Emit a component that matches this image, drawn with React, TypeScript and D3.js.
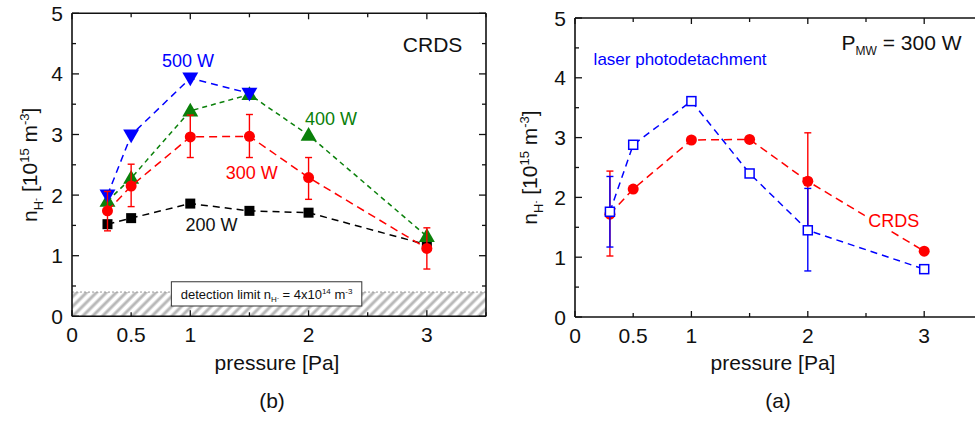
import React from 'react';
import * as d3 from 'd3';

// pressure [Pa]
const pressure = [0.3, 0.5, 1, 1.5, 2, 3];
const pressure500 = [0.3, 0.5, 1, 1.5];

// panel (b): CRDS at several MW powers, n_H- [1e15 m^-3]
const crds200 = [1.52, 1.62, 1.86, 1.74, 1.71, 1.18];
const crds300 = [1.74, 2.15, 2.96, 2.97, 2.29, 1.12];
const crds300Low = [1.41, 1.81, 2.62, 2.62, 1.93, 0.78];
const crds300High = [2.06, 2.51, 3.32, 3.33, 2.62, 1.46];
const crds400 = [1.9, 2.28, 3.39, 3.66, 2.99, 1.32];
const crds500 = [2.0, 2.99, 3.93, 3.68];
const detectionLimit = 0.4;

// panel (a): 300 W, laser photodetachment vs CRDS
const lpd = [1.76, 2.88, 3.61, 2.4, 1.45, 0.8];
const lpdErrP = [0.3, 2];
const lpdErrLow = [1.17, 0.77];
const lpdErrHigh = [2.35, 2.15];
const crdsA = [1.72, 2.14, 2.96, 2.97, 2.27, 1.1];
const crdsAErrP = [0.3, 2];
const crdsAErrLow = [1.02, 1.46];
const crdsAErrHigh = [2.44, 3.08];

const xTickLabels = [0, 0.5, 1, 2, 3];
const yTickLabels = [0, 1, 2, 3, 4, 5];

const FONT = '"Liberation Sans", Arial, Helvetica, sans-serif';
const BLUE = '#0000ff';
const RED = '#ff0000';
const GREEN = '#0a800a';

type Box = { left: number; right: number; top: number; bottom: number; rightAxis: boolean; titleOff: number };

function Frame({ x, y, box, children }: { x: any; y: any; box: Box; children?: any }) {
  const halfSteps = d3.range(0, 7.01, 1).map((d) => d / 2);
  const yHalf = d3.range(0, 10.01, 1).map((d) => d / 2);
  return (
    <g>
      {children}
      {/* frame */}
      <line x1={box.left} x2={box.left} y1={box.top} y2={box.bottom} stroke="#111" strokeWidth={1.6} />
      <line x1={box.left} x2={box.right} y1={box.bottom} y2={box.bottom} stroke="#111" strokeWidth={1.6} />
      <line x1={box.left} x2={box.right} y1={box.top} y2={box.top} stroke="#111" strokeWidth={1.6} />
      {box.rightAxis && (
        <line x1={box.right} x2={box.right} y1={box.top} y2={box.bottom} stroke="#111" strokeWidth={1.6} />
      )}
      {halfSteps.map((t) => {
        const len = Number.isInteger(t) ? 6 : 4;
        const px = x(t);
        if (px > box.right + 1) return null;
        return (
          <g key={'xt' + t}>
            <line x1={px} x2={px} y1={box.bottom} y2={box.bottom - len} stroke="#111" strokeWidth={1.3} />
            <line x1={px} x2={px} y1={box.top} y2={box.top + len} stroke="#111" strokeWidth={1.3} />
          </g>
        );
      })}
      {yHalf.map((t) => {
        const len = Number.isInteger(t) ? 7 : 4;
        const py = y(t);
        return (
          <g key={'yt' + t}>
            <line x1={box.left} x2={box.left + len} y1={py} y2={py} stroke="#111" strokeWidth={1.3} />
            {box.rightAxis && (
              <line x1={box.right} x2={box.right - len} y1={py} y2={py} stroke="#111" strokeWidth={1.3} />
            )}
          </g>
        );
      })}
      {xTickLabels.map((t) => (
        <text key={'xl' + t} x={x(t)} y={box.bottom + 26} textAnchor="middle" fontSize={21} fill="#111">
          {t}
        </text>
      ))}
      {yTickLabels.map((t) => (
        <text key={'yl' + t} x={box.left - 9} y={y(t) + 7.5} textAnchor="end" fontSize={21} fill="#111">
          {t}
        </text>
      ))}
      <text x={(box.left + Math.min(box.right, 975)) / 2 - 2} y={370} textAnchor="middle" fontSize={21} fill="#111">
        pressure [Pa]
      </text>
      <text
        transform={`translate(${box.left - box.titleOff},${(box.top + box.bottom) / 2}) rotate(-90)`}
        textAnchor="middle"
        fontSize={21}
        fill="#111"
      >
        n
        <tspan fontSize={13} dy={6}>H</tspan>
        <tspan fontSize={9} dy={-4}>-</tspan>
        <tspan fontSize={21} dy={-2}> [10</tspan>
        <tspan fontSize={13} dy={-8}>15</tspan>
        <tspan fontSize={21} dy={8}> m</tspan>
        <tspan fontSize={13} dy={-8}>-3</tspan>
        <tspan fontSize={21} dy={8}>]</tspan>
      </text>
    </g>
  );
}

function Series({ xs, ys, x, y, color, dash, marker }: any) {
  const line = d3
    .line<number>()
    .x((_, i) => x(xs[i]))
    .y((d) => y(d));
  return (
    <g>
      <path d={line(ys) || ''} fill="none" stroke={color} strokeWidth={1.5} strokeDasharray={dash} />
      {ys.map((v: number, i: number) => {
        const cx = x(xs[i]);
        const cy = y(v);
        if (marker === 'circle') return <circle key={i} cx={cx} cy={cy} r={5.5} fill={color} />;
        if (marker === 'square') return <rect key={i} x={cx - 5} y={cy - 5} width={10} height={10} fill={color} />;
        if (marker === 'open') return <rect key={i} x={cx - 4.5} y={cy - 4.5} width={9} height={9} fill="#fff" stroke={color} strokeWidth={1.5} />;
        if (marker === 'up') {
          const s = d3.symbol(d3.symbolTriangle, 110)() || '';
          return <path key={i} d={s} transform={`translate(${cx},${cy + 1})`} fill={color} />;
        }
        const s = d3.symbol(d3.symbolTriangle, 110)() || '';
        return <path key={i} d={s} transform={`translate(${cx},${cy - 1}) rotate(180)`} fill={color} />;
      })}
    </g>
  );
}

function ErrorBars({ xs, lo, hi, x, y, color }: any) {
  return (
    <g>
      {xs.map((p: number, i: number) => (
        <g key={i} stroke={color} strokeWidth={1.4}>
          <line x1={x(p)} x2={x(p)} y1={y(lo[i])} y2={y(hi[i])} />
          <line x1={x(p) - 3.5} x2={x(p) + 3.5} y1={y(lo[i])} y2={y(lo[i])} />
          <line x1={x(p) - 3.5} x2={x(p) + 3.5} y1={y(hi[i])} y2={y(hi[i])} />
        </g>
      ))}
    </g>
  );
}

export default function App() {
  const boxB: Box = { left: 72, right: 486, top: 13.3, bottom: 316.3, rightAxis: true, titleOff: 35 };
  const xB = d3.scaleLinear().domain([0, 3.5]).range([boxB.left, boxB.right]);
  const yB = d3.scaleLinear().domain([0, 5]).range([boxB.bottom, boxB.top]);

  const boxA: Box = { left: 575, right: 982.4, top: 18, bottom: 317, rightAxis: false, titleOff: 38 };
  const xA = d3.scaleLinear().domain([0, 3.5]).range([boxA.left, boxA.right]);
  const yA = d3.scaleLinear().domain([0, 5]).range([boxA.bottom, boxA.top]);

  return (
    <svg width={975} height={421} style={{ position: 'absolute', left: 0, top: 0 }} fontFamily={FONT}>
      <defs>
        <pattern id="hatch" patternUnits="userSpaceOnUse" width={7} height={7} patternTransform="rotate(45)">
          <rect width={7} height={7} fill="#fff" />
          <line x1={2} x2={2} y1={0} y2={7} stroke="#b8b8b8" strokeWidth={3} />
        </pattern>
      </defs>
      <rect width={975} height={421} fill="#fff" />

      {/* panel (b) */}
      <Frame x={xB} y={yB} box={boxB}>
        <rect
          x={boxB.left}
          y={yB(detectionLimit)}
          width={boxB.right - boxB.left}
          height={yB(0) - yB(detectionLimit)}
          fill="url(#hatch)"
        />
        <line
          x1={boxB.left}
          x2={boxB.right}
          y1={yB(detectionLimit)}
          y2={yB(detectionLimit)}
          stroke="#999"
          strokeWidth={1}
          strokeDasharray="2,2"
        />
        <rect x={xB(0.84)} y={yB(0.57)} width={xB(2.45) - xB(0.84)} height={yB(0.17) - yB(0.57)} fill="#fff" stroke="#333" strokeWidth={1} />
        <text x={xB(1.645)} y={yB(0.29)} textAnchor="middle" fontSize={13} fill="#111">
          detection limit n
          <tspan fontSize={8} dy={3}>H</tspan>
          <tspan fontSize={6} dy={-2}>-</tspan>
          <tspan fontSize={13} dy={-1}> = 4x10</tspan>
          <tspan fontSize={8} dy={-5}>14</tspan>
          <tspan fontSize={13} dy={5}> m</tspan>
          <tspan fontSize={8} dy={-5}>-3</tspan>
        </text>

        <Series xs={pressure} ys={crds200} x={xB} y={yB} color="#000" dash="7,5" marker="square" />
        <Series xs={pressure} ys={crds400} x={xB} y={yB} color={GREEN} dash="5,4" marker="up" />
        <Series xs={pressure500} ys={crds500} x={xB} y={yB} color={BLUE} dash="7,5" marker="down" />
        <ErrorBars xs={pressure} lo={crds300Low} hi={crds300High} x={xB} y={yB} color={RED} />
        <Series xs={pressure} ys={crds300} x={xB} y={yB} color={RED} dash="8,5" marker="circle" />

        <text x={xB(0.98)} y={yB(4.11)} textAnchor="middle" fontSize={18} fill={BLUE}>500 W</text>
        <text x={xB(2.19)} y={yB(3.16)} textAnchor="middle" fontSize={18} fill={GREEN}>400 W</text>
        <text x={xB(1.52)} y={yB(2.27)} textAnchor="middle" fontSize={18} fill={RED}>300 W</text>
        <text x={xB(1.18)} y={yB(1.41)} textAnchor="middle" fontSize={18} fill="#111">200 W</text>
        <text x={xB(3.3)} y={yB(4.36)} textAnchor="end" fontSize={21} fill="#111">CRDS</text>
      </Frame>
      <text x={272} y={408} textAnchor="middle" fontSize={21} fill="#111">(b)</text>

      {/* panel (a) */}
      <Frame x={xA} y={yA} box={boxA}>
        <ErrorBars xs={crdsAErrP} lo={crdsAErrLow} hi={crdsAErrHigh} x={xA} y={yA} color={RED} />
        <Series xs={pressure} ys={crdsA} x={xA} y={yA} color={RED} dash="8,5" marker="circle" />
        <ErrorBars xs={lpdErrP} lo={lpdErrLow} hi={lpdErrHigh} x={xA} y={yA} color={BLUE} />
        <Series xs={pressure} ys={lpd} x={xA} y={yA} color={BLUE} dash="7,5" marker="open" />
        <rect x={xA(2.49)} y={yA(1.82)} width={xA(2.97) - xA(2.49)} height={yA(1.44) - yA(1.82)} fill="#fff" />
        <text x={xA(2.52)} y={yA(1.5)} fontSize={18} fill={RED}>CRDS</text>
        <text x={xA(0.16)} y={yA(4.21)} fontSize={17} fill={BLUE}>laser photodetachment</text>
        <text x={xA(2.29)} y={yA(4.46)} fontSize={21} fill="#111">
          P
          <tspan fontSize={12} dy={5}>MW</tspan>
          <tspan fontSize={21} dy={-5}> = 300 W</tspan>
        </text>
      </Frame>
      <text x={778} y={408} textAnchor="middle" fontSize={21} fill="#111">(a)</text>
    </svg>
  );
}
